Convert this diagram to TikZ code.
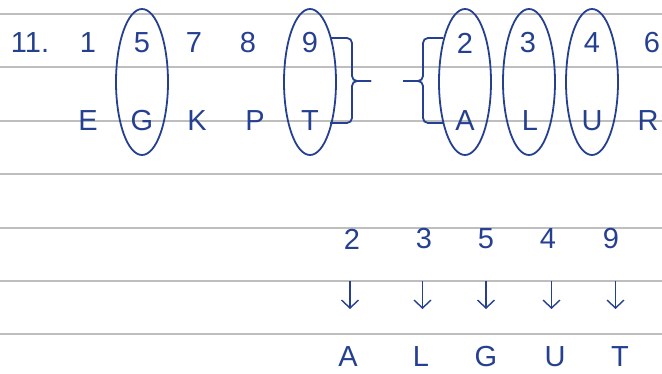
\documentclass[tikz,border=0pt]{standalone}
\usepackage{fontspec}
\setmainfont{Liberation Sans}
\usetikzlibrary{calc,arrows.meta}
\definecolor{ink}{RGB}{38,64,145}
\definecolor{rulegray}{RGB}{190,190,190}

\begin{document}
\begin{tikzpicture}[x=1pt,y=-1pt,
    every node/.style={text=ink,font=\fontsize{29}{30}\selectfont,inner sep=0pt},
    ring/.style={draw=ink,line width=1.8pt},
    bracket/.style={draw=ink,line width=1.8pt,rounded corners=5pt},
    down/.style={draw=ink,line width=1.4pt,-{Straight Barb[length=8pt,width=17pt]},
      shorten <=42pt,shorten >=48pt}]
    \useasboundingbox (0,0) rectangle (662,374);

    % ruled lines
    \foreach \y in {14,67,121,174,228,281,334}
      \draw[rulegray,line width=1.2pt] (0,\y) -- (662,\y);

    \node (num) at (30,43) {11.};

    % digits and letters
    \foreach \d/\x in {1/88,5/142,7/194,8/248,9/310,2/465,3/528,4/592,6/652}
      \node (t\d) at (\x,43) {\d};
    \foreach \l/\x in {E/88,G/142,K/197,P/255,T/310,A/465,L/530,U/592,R/648}
      \node (m\l) at (\x,121) {\l};

    \foreach \a/\b in {t5/mG,t9/mT,t2/mA,t3/mL,t4/mU}
      \draw[ring] ($(\a)!0.5!(\b)$) ellipse [x radius=26pt,y radius=73pt];

    % brackets
    \coordinate (jl) at (371,81);
    \coordinate (jr) at (403,81);
    \draw[bracket] (330,38) -- (352,38) -- (352,81) -- (jl);
    \draw[bracket] (330,123) -- (352,123) -- (352,81) -- (jl);
    \draw[bracket] (443,38) -- (423,38) -- (423,81) -- (jr);
    \draw[bracket] (443,123) -- (423,123) -- (423,81) -- (jr);

    % result
    \foreach \d/\x in {2/352,3/424,5/486,4/548,9/611}
      \node (b\d) at (\x,239) {\d};
    \foreach \l/\x in {A/348,L/421,G/486,U/555,T/620}
      \node (c\l) at (\x,357) {\l};
    \foreach \d/\l in {2/A,3/L,5/G,4/U,9/T}{
      \coordinate (a\d) at ($(b\d)!0.5!(c\l)$);
      \draw[down] (a\d |- b\d) -- (a\d |- c\l);
    }
\end{tikzpicture}
\end{document}
